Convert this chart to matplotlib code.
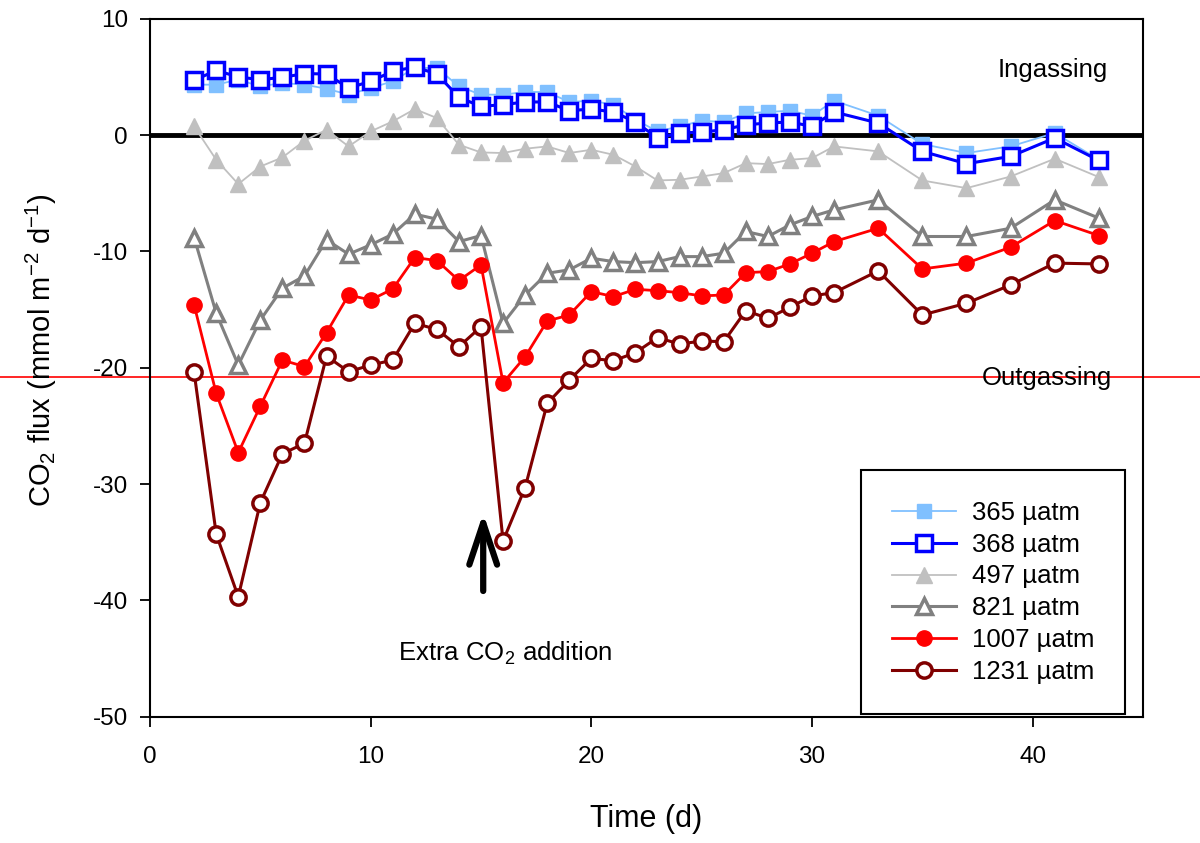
import numpy as np
import matplotlib
matplotlib.use('Agg')
import matplotlib.pyplot as plt

plt.rcParams['font.family'] = ['Liberation Sans', 'DejaVu Sans']
plt.rcParams['mathtext.fontset'] = 'custom'
plt.rcParams['mathtext.rm'] = 'Liberation Sans'
plt.rcParams['mathtext.it'] = 'Liberation Sans:italic'
plt.rcParams['axes.unicode_minus'] = False

#------------------------------------------------------------------------------
# data
#------------------------------------------------------------------------------

days = [2,3,4,5,6,7,8,9,10,11,12,13,14,15,16,17,18,19,20,21,22,23,24,25,26,
        27,28,29,30,31,33,35,37,39,41,43]

flux_365 = [4.35,4.35,4.78,4.2,4.49,4.35,4.0,3.49,4.06,4.64,5.79,5.79,4.2,3.49,
            3.49,3.72,3.72,2.86,2.97,2.63,1.34,0.33,0.76,1.25,1.14,1.88,2.0,
            2.11,1.68,2.97,1.68,-0.76,-1.53,-0.96,0.19,-2.1]
flux_368 = [4.72,5.58,5.01,4.78,4.98,5.3,5.27,4.06,4.64,5.5,5.87,5.27,3.26,2.48,
            2.63,2.86,2.86,2.11,2.25,2.0,1.14,-0.24,0.19,0.27,0.47,0.9,1.05,
            1.14,0.76,2.0,1.05,-1.39,-2.45,-1.82,-0.24,-2.17]
flux_497 = [0.76,-2.11,-4.2,-2.69,-1.91,-0.47,0.47,-0.96,0.33,1.19,2.25,1.48,
            -0.82,-1.48,-1.53,-1.16,-0.96,-1.53,-1.25,-1.68,-2.69,-3.89,-3.83,
            -3.55,-3.26,-2.4,-2.48,-2.11,-1.97,-0.96,-1.39,-3.89,-4.55,-3.55,
            -2.02,-3.6]
flux_821 = [-8.8,-15.3,-19.77,-15.9,-13.16,-12.1,-9.0,-10.23,-9.43,-8.51,-6.79,
            -7.22,-9.15,-8.63,-16.18,-13.74,-11.87,-11.58,-10.58,-10.87,-10.96,
            -10.87,-10.44,-10.44,-10.15,-8.28,-8.71,-7.71,-6.99,-6.42,-5.56,
            -8.71,-8.71,-8.0,-5.56,-7.13]
flux_1007 = [-14.6,-22.2,-27.3,-23.3,-19.34,-19.9,-16.98,-13.74,-14.17,-13.22,
             -10.52,-10.78,-12.5,-11.15,-21.3,-19.05,-15.98,-15.46,-13.45,-13.88,
             -13.25,-13.37,-13.54,-13.82,-13.74,-11.82,-11.73,-11.07,-10.15,
             -9.15,-8.0,-11.5,-11.0,-9.63,-7.34,-8.63]
flux_1231 = [-20.4,-34.3,-39.7,-31.6,-27.4,-26.5,-19.0,-20.34,-19.77,-19.34,
             -16.18,-16.7,-18.19,-16.47,-34.9,-30.3,-23.07,-21.06,-19.19,-19.4,
             -18.7,-17.41,-17.96,-17.7,-17.76,-15.09,-15.75,-14.8,-13.82,-13.54,
             -11.67,-15.46,-14.45,-12.88,-11.0,-11.07]

labels = ['365 µatm','368 µatm','497 µatm','821 µatm','1007 µatm','1231 µatm']

#------------------------------------------------------------------------------

fig = plt.figure(figsize=(12,8.43),dpi=100)
ax = fig.add_axes([0.125,0.15,0.8275,0.8275])

ax.axhline(0,color='black',linewidth=3.5,zorder=1)
# red line runs over the whole figure width
ax.axhline(-20.8,xmin=-0.16,xmax=1.07,color='red',linewidth=1.2,clip_on=False,zorder=1)

ax.plot(days,flux_365,color='#80c0ff',linewidth=1.3,marker='s',markersize=10.5,
        markerfacecolor='#80c0ff',markeredgecolor='#80c0ff',label=labels[0],zorder=3)
ax.plot(days,flux_368,color='#0000ff',linewidth=2.2,marker='s',markersize=11,
        markerfacecolor='white',markeredgecolor='#0000ff',markeredgewidth=2.5,label=labels[1],zorder=4)
ax.plot(days,flux_497,color='#c0c0c0',linewidth=1.3,marker='^',markersize=12,
        markerfacecolor='#c0c0c0',markeredgecolor='#c0c0c0',label=labels[2],zorder=3)
ax.plot(days,flux_821,color='#808080',linewidth=2.2,marker='^',markersize=12,
        markerfacecolor='white',markeredgecolor='#808080',markeredgewidth=2.5,label=labels[3],zorder=4)
ax.plot(days,flux_1007,color='#ff0000',linewidth=2.0,marker='o',markersize=11,
        markerfacecolor='#ff0000',markeredgecolor='#ff0000',label=labels[4],zorder=4)
ax.plot(days,flux_1231,color='#800000',linewidth=2.2,marker='o',markersize=11,
        markerfacecolor='white',markeredgecolor='#800000',markeredgewidth=2.5,label=labels[5],zorder=5)

ax.text(43.4,5.6,'Ingassing',fontsize=18.5,ha='right',va='center')
ax.text(43.6,-20.9,'Outgassing',fontsize=18.5,ha='right',va='center',zorder=6)

ax.annotate('',xy=(15.1,-32.5),xytext=(15.1,-39.2),
            arrowprops=dict(arrowstyle='->,head_length=1.5,head_width=0.5',color='black',
                            lw=4.5,mutation_scale=20,shrinkA=0,shrinkB=0))
ax.text(16.1,-44.6,'Extra CO$_2$ addition',fontsize=18.5,ha='center',va='center')

ax.set_xlim([0,45])
ax.set_ylim([-50,10])
ax.set_xticks([0,10,20,30,40])
ax.set_yticks([-50,-40,-30,-20,-10,0,10])
ax.tick_params(direction='out',length=7,width=1.3,labelsize=17.5,pad=9)
ax.tick_params(axis='x',pad=14)
for sp in ax.spines.values():
    sp.set_linewidth(1.5)

ax.set_xlabel('Time (d)',fontsize=22,labelpad=26)
ax.set_ylabel('CO$_2$ flux (mmol m$^{-2}$ d$^{-1}$)',fontsize=21)
ax.yaxis.set_label_coords(-0.092,0.525)

leg = ax.legend(loc='lower right',bbox_to_anchor=(0.982,0.003),borderaxespad=0,
                fontsize=18.5,fancybox=False,framealpha=1,edgecolor='black',
                handlelength=2.5,borderpad=1.2,labelspacing=0.3,handletextpad=0.6)
leg.get_frame().set_linewidth(1.5)
leg.set_zorder(10)

plt.savefig('out.png',dpi=100)
